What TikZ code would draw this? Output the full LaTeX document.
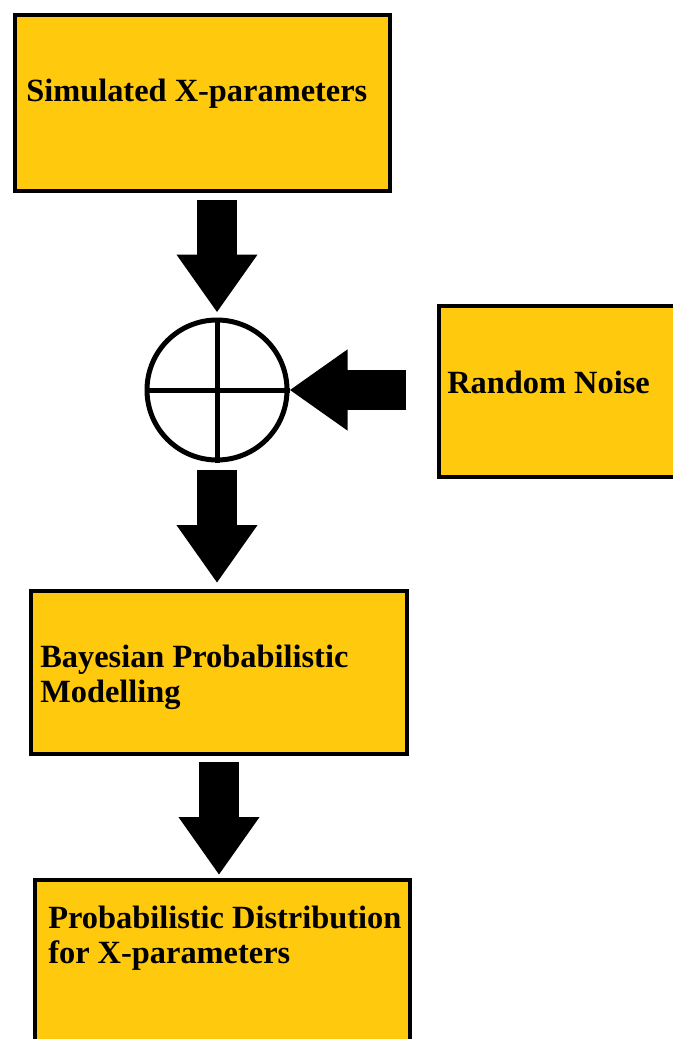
\documentclass[tikz,border=0pt]{standalone}
\usepackage{fontspec}
\setmainfont{Liberation Serif}
\usetikzlibrary{calc,arrows.meta,positioning}
\definecolor{gold}{RGB}{255,201,14}

\begin{document}
\begin{tikzpicture}[x=0.75pt,y=-0.75pt,
    box/.style={draw,fill=gold,line width=3pt,rectangle,inner sep=0pt},
    lbl/.style={inner sep=0pt,align=left,font=\fontsize{24.3pt}{26.25pt}\selectfont\bfseries},
    bigarrow/.style={line width=30pt,-{Triangle[width=57.75pt,length=43.5pt]}}]
    \clip (0,0) rectangle (673,1039);

    \node[box,minimum width=281.25pt,minimum height=132pt] (sim) at (202.5,103) {};
    \node[box,minimum width=202.5pt,minimum height=128.25pt] (noise) at (574,391.5) {};
    \node[box,minimum width=282pt,minimum height=122.25pt] (bayes) at (219,672.5) {};
    \node[box,minimum width=281.25pt,minimum height=165pt] (prob) at (222.5,990) {};
    \node[draw,circle,line width=3.75pt,minimum size=105pt,inner sep=0pt] (sum) at (217,390) {};
    \draw[line width=3.75pt] (sum.north) -- (sum.south);
    \draw[line width=3.75pt] (sum.west) -- (sum.east);

    \node[lbl,anchor=base west] (simtxt) at (26,101) {Simulated X-parameters};
    \node[lbl,anchor=base west] (noisetxt) at (447,393) {Random Noise};
    \node[lbl,anchor=base west] (bayestxt) at (40,702) {Bayesian Probabilistic\\Modelling};
    \node[lbl,anchor=base west] (probtxt) at (48,963) {Probabilistic Distribution\\for X-parameters};

    % block arrows
    \draw[bigarrow] ($(sum.north |- sim.south)+(0,7)$) -- ($(sum.north)+(0,-5)$);
    \draw[bigarrow] ($(noise.west |- sum.east)+(-31,0)$) -- (sum.east);
    \draw[bigarrow] ($(sum.south)+(0,7)$) -- ($(sum.south |- bayes.north)+(0,-6)$);
    \draw[bigarrow] ($(bayes.south)+(0,6)$) -- ($(bayes.south |- prob.north)+(0,-3)$);
\end{tikzpicture}
\end{document}
